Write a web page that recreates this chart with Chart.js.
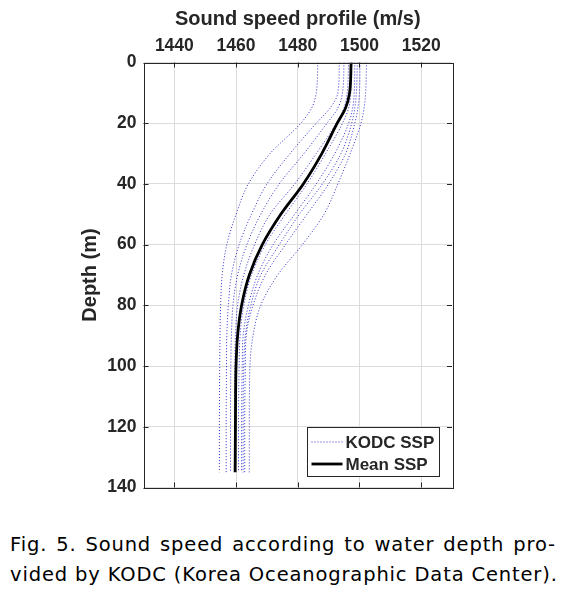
<!DOCTYPE html>
<html>
<head>
<meta charset="utf-8">
<script src="https://cdn.jsdelivr.net/npm/chart.js@4"></script>
<style>
  html, body { margin: 0; padding: 0; background: #fff; }
  body { width: 576px; height: 592px; position: relative; overflow: hidden; }
  #wrap { position: absolute; left: 0; top: 0; width: 576px; height: 505px; }
  .cap { position: absolute; left: 10px; width: 546px; font-family: "DejaVu Sans", sans-serif; letter-spacing: 0.85px;
         font-size: 19.5px; color: #000; white-space: nowrap; text-align: justify; text-align-last: justify; line-height: 28px; }
</style>
</head>
<body>
<div id="wrap"><canvas id="ssp"></canvas></div>
<div class="cap" style="top:531px">Fig. 5. Sound speed according to water depth pro-</div>
<div class="cap" style="top:561px">vided by KODC (Korea Oceanographic Data Center).</div>
<script>
// --- DATA ---
const depths = [0, 10, 15, 20, 30, 40, 50, 60, 70, 80, 90, 100, 120, 135];
const speedTicks = [1440, 1460, 1480, 1500, 1520];
const depthTicks = [0, 20, 40, 60, 80, 100, 120, 140];

const kodc1 = [1486.5, 1486, 1484.5, 1481, 1471, 1464, 1460, 1457, 1455.5, 1455, 1454.8, 1454.7, 1454.6, 1454.6];
const kodc2 = [1493.5, 1493, 1490.5, 1486, 1477.5, 1470, 1465, 1461, 1458.5, 1457.5, 1457, 1456.9, 1456.8, 1456.8];
const kodc3 = [1495, 1494.5, 1493, 1489.5, 1482, 1474, 1468, 1463.5, 1460.5, 1459, 1458.5, 1458.3, 1458.2, 1458.2];
const kodc4 = [1496.5, 1496, 1495, 1492.5, 1486, 1479, 1471, 1466, 1462.5, 1460.5, 1459.8, 1459.6, 1459.5, 1459.5];
const kodc5 = [1497.5, 1497.2, 1496.5, 1494.5, 1489, 1483, 1476, 1469.5, 1465, 1462.5, 1461.3, 1461, 1460.8, 1460.8];
const kodc6 = [1498.5, 1498.3, 1497.8, 1496.5, 1492, 1486, 1479, 1472, 1467, 1464, 1462.3, 1462, 1461.8, 1461.8];
const kodc7 = [1500.2, 1500, 1499.5, 1498.5, 1495.5, 1490, 1483, 1476, 1469.5, 1465.5, 1463.3, 1463, 1462.8, 1462.8];
const kodc8 = [1502.3, 1502, 1501.5, 1500.5, 1497, 1493, 1488.5, 1481.5, 1473.5, 1468, 1465.5, 1464.5, 1464.3, 1464.3];
const kodc9 = [1499.3, 1499, 1498.5, 1497.5, 1494, 1488, 1480.5, 1474, 1468, 1464.8, 1463, 1462.5, 1462.3, 1462.3];
const meanSSP = [1497.3, 1496.8, 1495.5, 1492.8, 1487.8, 1481.8, 1474.5, 1468.5, 1464.3, 1461.8, 1460.5, 1460, 1459.8, 1459.7];

const kodcProfiles = [kodc1, kodc2, kodc3, kodc4, kodc5, kodc6, kodc7, kodc8, kodc9];

// --- STYLE ---
const INK = '#262626';
const FAMILY = '"Liberation Sans", Arial, sans-serif';
const TICK_FONT = { family: FAMILY, size: 17.5, weight: 'bold' };
const TITLE_FONT = { family: FAMILY, size: 20, weight: 'bold' };
const KODC_COLOR = 'rgba(10, 10, 200, 0.85)';

function toPoints(speeds) {
    return speeds.map((s, i) => ({ x: s, y: depths[i] }));
}

const datasets = kodcProfiles.map(p => ({
    label: 'KODC SSP',
    data: toPoints(p),
    borderColor: KODC_COLOR,
    borderWidth: 1,
    borderDash: [1, 2],
    pointRadius: 0,
    order: 1
}));
datasets.push({
    label: 'Mean SSP',
    data: toPoints(meanSSP),
    borderColor: '#000',
    borderWidth: 2.8,
    pointRadius: 0,
    order: 0
});

// box, inward ticks and legend, MATLAB style
const frameAndLegend = {
    id: 'frameAndLegend',
    afterDatasetsDraw(chart) {
        const { ctx, chartArea: ca, scales } = chart;
        ctx.save();
        ctx.strokeStyle = INK;
        ctx.lineWidth = 1;
        const tl = 5;
        ctx.beginPath();
        speedTicks.forEach(v => {
            const x = Math.round(scales.x.getPixelForValue(v)) + 0.5;
            ctx.moveTo(x, ca.top); ctx.lineTo(x, ca.top + tl);
            ctx.moveTo(x, ca.bottom); ctx.lineTo(x, ca.bottom - tl);
        });
        depthTicks.forEach(v => {
            const y = Math.round(scales.y.getPixelForValue(v)) + 0.5;
            ctx.moveTo(ca.left, y); ctx.lineTo(ca.left + tl, y);
            ctx.moveTo(ca.right, y); ctx.lineTo(ca.right - tl, y);
        });
        ctx.stroke();
        ctx.strokeRect(Math.round(ca.left) + 0.5, Math.round(ca.top) + 0.5,
                       Math.round(ca.right - ca.left), Math.round(ca.bottom - ca.top));

        // legend
        const bx = Math.round(ca.right - 145) + 0.5, by = Math.round(ca.bottom - 61) + 0.5;
        const bw = 132, bh = 49;
        ctx.fillStyle = '#fff';
        ctx.fillRect(bx, by, bw, bh);
        ctx.strokeStyle = INK;
        ctx.strokeRect(bx, by, bw, bh);
        const rows = [
            { text: 'KODC SSP', color: KODC_COLOR, width: 1, dash: [1, 2], dy: 14.5 },
            { text: 'Mean SSP', color: '#000', width: 2.8, dash: [], dy: 36.5 }
        ];
        ctx.font = 'bold 17px ' + FAMILY;
        ctx.textBaseline = 'middle';
        rows.forEach(r => {
            const y = by + r.dy;
            ctx.beginPath();
            ctx.setLineDash(r.dash);
            ctx.strokeStyle = r.color;
            ctx.lineWidth = r.width;
            ctx.moveTo(bx + 4, y); ctx.lineTo(bx + 35, y);
            ctx.stroke();
            ctx.setLineDash([]);
            ctx.fillStyle = INK;
            ctx.fillText(r.text, bx + 38, y + 1);
        });
        ctx.restore();
    }
};

const ctx = document.getElementById('ssp').getContext('2d');
new Chart(ctx, {
    type: 'line',
    data: { datasets: datasets },
    plugins: [frameAndLegend],
    options: {
        responsive: true,
        maintainAspectRatio: false,
        animation: false,
        indexAxis: 'y',
        layout: { padding: { left: 78, top: 7.3, right: 124, bottom: 15 } },
        elements: { line: { cubicInterpolationMode: 'monotone' } },
        plugins: { legend: { display: false }, tooltip: { enabled: false } },
        scales: {
            x: {
                type: 'linear',
                position: 'top',
                min: 1430, max: 1530,
                afterFit: s => { s.height = 62.5 - 7.3; },
                afterBuildTicks: s => { s.ticks = speedTicks.map(v => ({ value: v })); },
                grid: { color: '#dcdcdc', drawTicks: false },
                border: { display: false },
                ticks: { color: INK, font: TICK_FONT, padding: 6, callback: v => String(v) },
                title: { display: true, text: 'Sound speed profile (m/s)', color: INK, font: TITLE_FONT, padding: 0 }
            },
            y: {
                type: 'linear',
                reverse: true,
                min: 0, max: 140,
                afterFit: s => { s.width = 143.5 - 78; },
                afterBuildTicks: s => { s.ticks = depthTicks.map(v => ({ value: v })); },
                grid: { color: '#dcdcdc', drawTicks: false },
                border: { display: false },
                ticks: { color: INK, font: TICK_FONT, padding: 7, callback: v => String(v) },
                title: { display: true, text: 'Depth (m)', color: INK, font: TITLE_FONT, padding: 0 }
            }
        }
    }
});
</script>
</body>
</html>
